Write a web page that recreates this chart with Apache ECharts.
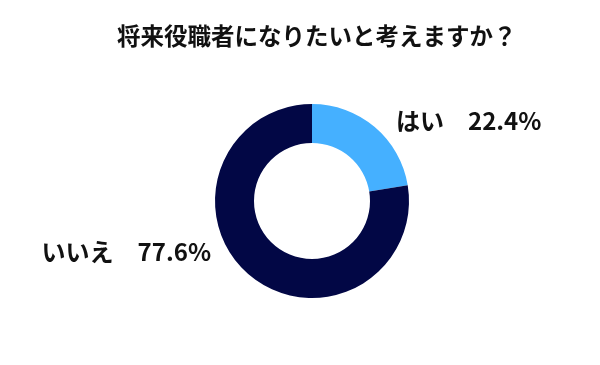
<!DOCTYPE html>
<html><head><meta charset="utf-8">
<script src="https://cdn.jsdelivr.net/npm/echarts@6/dist/echarts.min.js"></script>
<style>html,body{margin:0;padding:0;background:#fff}#c{width:600px;height:365px}</style>
</head><body><div id="c"></div>
<script>
const title = '将来役職者になりたいと考えますか？';
const categories = ['はい', 'いいえ'];
const values = [22.4, 77.6];
const colors = ['#45B0FF', '#020745'];

const chart = echarts.init(document.getElementById('c'));
chart.setOption({
  animation: false,
  title: {
    text: title, left: 112, top: 19,
    textStyle: {fontFamily: 'Noto Sans CJK JP', fontWeight: 'bold', fontSize: 23.5, color: '#111'}
  },
  series: [{
    type: 'pie',
    center: [312, 201],
    radius: [58, 97],
    startAngle: 90,
    clockwise: true,
    data: categories.map((c, i) => ({name: c, value: values[i], itemStyle: {color: colors[i]}})),
    label: {
      show: true, position: 'outside',
      formatter: p => p.name + '　' + p.value.toFixed(1) + '%',
      fontFamily: 'Noto Sans CJK JP', fontWeight: 'bold', fontSize: 24, color: '#111'
    },
    labelLine: {show: false},
    labelLayout: function (p) {
      if (p.dataIndex === 0) return {x: 396, y: 121, align: 'left', verticalAlign: 'middle'};
      return {x: 211, y: 252, align: 'right', verticalAlign: 'middle'};
    }
  }]
});
</script></body></html>
